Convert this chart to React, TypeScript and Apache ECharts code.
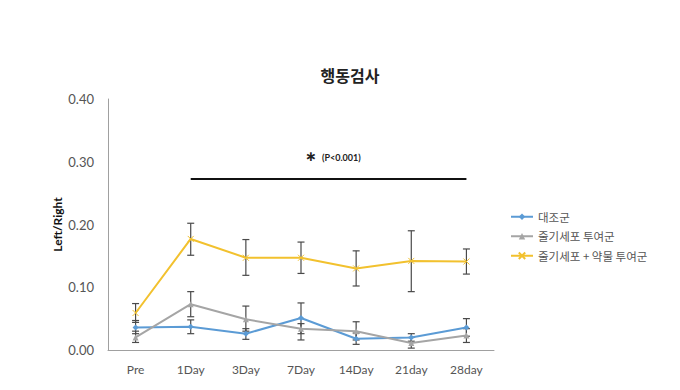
import React, { useEffect, useRef } from "react";
import * as echarts from "echarts";

const categories = ["Pre", "1Day", "3Day", "7Day", "14Day", "21day", "28day"];

const controlName = "대조군";
const controlValues = [0.036, 0.037, 0.026, 0.051, 0.018, 0.020, 0.036];
const controlLow = [0.026, 0.026, 0.017, 0.016, 0.009, 0.014, 0.022];
const controlHigh = [0.047, 0.048, 0.034, 0.075, 0.027, 0.026, 0.050];

const stemName = "줄기세포 투여군";
const stemValues = [0.020, 0.073, 0.049, 0.034, 0.030, 0.011, 0.023];
const stemLow = [0.012, 0.053, 0.030, 0.026, 0.016, 0.003, 0.012];
const stemHigh = [0.030, 0.093, 0.070, 0.042, 0.045, 0.020, 0.034];

const comboName = "줄기세포 + 약물 투여군";
const comboValues = [0.059, 0.177, 0.147, 0.147, 0.130, 0.142, 0.141];
const comboLow = [0.044, 0.151, 0.119, 0.122, 0.102, 0.093, 0.121];
const comboHigh = [0.074, 0.202, 0.176, 0.172, 0.158, 0.190, 0.161];

const yTicks = { min: 0, max: 0.4, interval: 0.1 };
const sigLevel = 0.273;
const sigStart = "1Day";
const sigEnd = "28day";

const latin = "Lato, 'Open Sans', sans-serif";
const kr = "'Noto Sans CJK KR', sans-serif";

function errorSeries(name: string, low: number[], high: number[]) {
  const data = categories.map((c, i) => [i, low[i], high[i]]);
  return {
    type: "custom",
    name: name + "-err",
    silent: true,
    z: 1,
    data,
    renderItem: (params: any, api: any) => {
      const x = api.value(0);
      const lo = api.coord([x, api.value(1)]);
      const hi = api.coord([x, api.value(2)]);
      const w = 3.5;
      const style = { stroke: "#4a4a4a", lineWidth: 1.2 };
      return {
        type: "group",
        children: [
          { type: "line", shape: { x1: lo[0], y1: lo[1], x2: hi[0], y2: hi[1] }, style },
          { type: "line", shape: { x1: lo[0] - w, y1: lo[1], x2: lo[0] + w, y2: lo[1] }, style },
          { type: "line", shape: { x1: hi[0] - w, y1: hi[1], x2: hi[0] + w, y2: hi[1] }, style },
        ],
      };
    },
  };
}

export default function App() {
  const ref = useRef<HTMLDivElement>(null);
  useEffect(() => {
    if (!ref.current) return;
    document.body.style.margin = "0";
    const chart = echarts.init(ref.current, null, { renderer: "svg" });
    chart.setOption({
      animation: false,
      backgroundColor: "#ffffff",
      title: {
        text: "행동검사",
        left: 345,
        top: 62,
        textAlign: "center",
        textStyle: { fontFamily: kr, fontSize: 16, fontWeight: "bold", color: "#222" },
      },
      legend: {
        orient: "vertical",
        left: 505,
        top: 206,
        itemWidth: 22,
        itemHeight: 8,
        itemGap: 8,
        data: [controlName, stemName, comboName],
        textStyle: { fontFamily: kr, fontSize: 11.5, color: "#555" },
      },
      grid: { left: 108, right: 186, top: 99, bottom: 40 },
      xAxis: {
        type: "category",
        data: categories,
        boundaryGap: true,
        axisLine: { lineStyle: { color: "#a0a0a0", width: 1 } },
        axisTick: { show: false },
        axisLabel: { fontFamily: latin, fontSize: 12, color: "#555", margin: 13 },
      },
      yAxis: {
        type: "value",
        min: yTicks.min,
        max: yTicks.max,
        interval: yTicks.interval,
        name: "Left/Right",
        nameLocation: "middle",
        nameGap: 45,
        nameMoveOverlap: false,
        nameTextStyle: { fontFamily: latin, fontSize: 12, fontWeight: "bold", color: "#111" },
        axisLine: { show: true, lineStyle: { color: "#a0a0a0", width: 1 } },
        axisTick: { show: false },
        splitLine: { show: false },
        axisLabel: {
          fontFamily: latin,
          fontSize: 13,
          color: "#555",
          margin: 14,
          formatter: (v: number) => v.toFixed(2),
        },
      },
      graphic: [
        {
          type: "text",
          left: 305,
          top: 149,
          style: { text: "∗", font: "bold 14px 'DejaVu Sans'", fill: "#222" },
        },
        {
          type: "text",
          left: 322,
          top: 153,
          style: { text: "(P<0.001)", font: "bold 9px " + latin, fill: "#222" },
        },
      ],
      series: [
        errorSeries(controlName, controlLow, controlHigh),
        errorSeries(stemName, stemLow, stemHigh),
        errorSeries(comboName, comboLow, comboHigh),
        {
          type: "line",
          name: controlName,
          data: controlValues,
          z: 3,
          symbol: "diamond",
          symbolSize: 6,
          color: "#5b9bd5",
          lineStyle: { width: 2, color: "#5b9bd5" },
          itemStyle: { color: "#5b9bd5" },
        },
        {
          type: "line",
          name: stemName,
          data: stemValues,
          z: 3,
          symbol: "triangle",
          symbolSize: 6,
          color: "#a5a5a5",
          lineStyle: { width: 2, color: "#a5a5a5" },
          itemStyle: { color: "#a5a5a5" },
        },
        {
          type: "line",
          name: comboName,
          data: comboValues,
          z: 3,
          symbol: "path://M0,0L10,10M10,0L0,10",
          symbolSize: 6,
          color: "#f2c12e",
          lineStyle: { width: 2, color: "#f2c12e" },
          itemStyle: { color: "#f2c12e", borderColor: "#f2c12e", borderWidth: 1 },
          markLine: {
            silent: true,
            symbol: "none",
            label: { show: false },
            lineStyle: { color: "#111", width: 2, type: "solid" },
            data: [[{ coord: [sigStart, sigLevel] }, { coord: [sigEnd, sigLevel] }]],
          },
        },
      ],
    });
    return () => chart.dispose();
  }, []);
  return <div ref={ref} style={{ width: 680, height: 390 }} />;
}
